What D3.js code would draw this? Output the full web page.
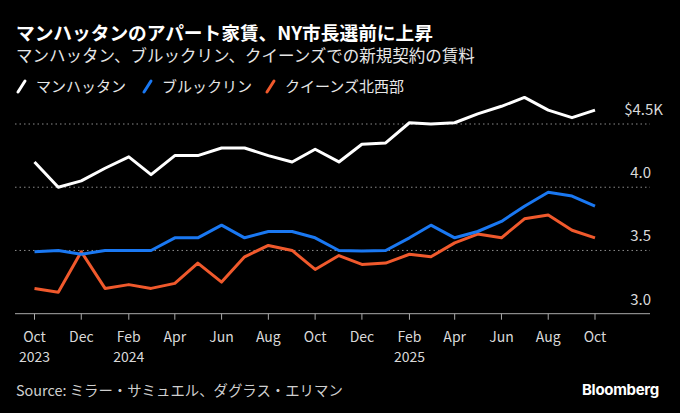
<!DOCTYPE html>
<html>
<head>
<meta charset="utf-8">
<script src="https://cdn.jsdelivr.net/npm/d3@7"></script>
<style>
  html, body { margin: 0; padding: 0; background: #000; }
  svg { display: block; font-family: "Noto Sans CJK JP", "Noto Sans", sans-serif; }
</style>
</head>
<body>
<div id="chart"></div>
<script>
// monthly data, Oct 2023 .. Oct 2025 (thousand USD)
const months = d3.timeMonths(new Date(2023, 9, 1), new Date(2025, 10, 1));
const manhattan = [4.20, 4.00, 4.05, 4.15, 4.24, 4.10, 4.25, 4.25, 4.31, 4.31, 4.25, 4.20, 4.30,
  4.20, 4.34, 4.35, 4.51, 4.50, 4.51, 4.58, 4.64, 4.71, 4.61, 4.55, 4.61];
const brooklyn = [3.49, 3.50, 3.47, 3.50, 3.50, 3.50, 3.60, 3.60, 3.70, 3.60, 3.65, 3.65, 3.60,
  3.50, 3.495, 3.50, 3.60, 3.70, 3.60, 3.65, 3.73, 3.85, 3.96, 3.93, 3.85];
const queensNW = [3.20, 3.17, 3.49, 3.20, 3.23, 3.20, 3.24, 3.40, 3.25, 3.45, 3.54, 3.50, 3.35,
  3.46, 3.39, 3.40, 3.47, 3.45, 3.56, 3.63, 3.60, 3.75, 3.78, 3.66, 3.60];
const yTicks = [3.0, 3.5, 4.0, 4.5];

const series = [
  { name: "マンハッタン", values: manhattan, color: "#ffffff" },
  { name: "ブルックリン", values: brooklyn, color: "#1a78f2" },
  { name: "クイーンズ北西部", values: queensNW, color: "#f0592c" },
];

const width = 680, height = 413;
const plotLeft = 15, plotRight = 650;

const svg = d3.select("#chart").append("svg")
  .attr("width", width)
  .attr("height", height)
  .style("background", "#000");

// titles
svg.append("text").attr("x", 16).attr("y", 40)
  .attr("fill", "#fff").attr("font-size", 18.7).attr("font-weight", 700)
  .text("マンハッタンのアパート家賃、NY市長選前に上昇");
svg.append("text").attr("x", 16).attr("y", 62)
  .attr("fill", "#e6e6e6").attr("font-size", 16.5)
  .text("マンハッタン、ブルックリン、クイーンズでの新規契約の賃料");

// legend
const legendX = [16, 142, 265];
const legendG = svg.append("g");
series.forEach((s, i) => {
  const g = legendG.append("g").attr("transform", `translate(${legendX[i]},0)`);
  g.append("line")
    .attr("x1", 2).attr("y1", 92).attr("x2", 9).attr("y2", 81)
    .attr("stroke", s.color).attr("stroke-width", 3).attr("stroke-linecap", "round");
  g.append("text").attr("x", 20).attr("y", 92)
    .attr("fill", "#e6e6e6").attr("font-size", 15)
    .text(s.name);
});

const x = d3.scaleTime()
  .domain([months[0], months[months.length - 1]])
  .range([34.5, 595]);
const y = d3.scaleLinear().domain([3.0, 4.5]).range([313.7, 124]);

// gridlines
svg.append("g").selectAll("line")
  .data(yTicks.filter((d) => d > 3.0))
  .join("line")
  .attr("x1", plotLeft).attr("x2", plotRight)
  .attr("y1", (d) => y(d)).attr("y2", (d) => y(d))
  .attr("stroke", "#8a8a8a").attr("stroke-width", 1)
  .attr("stroke-dasharray", "1.5,3");

// y labels
svg.append("g").selectAll("text")
  .data(yTicks)
  .join("text")
  .attr("x", (d) => (d === 4.5 ? 663 : 651))
  .attr("y", (d) => y(d) - 9)
  .attr("text-anchor", "end")
  .attr("fill", "#d9d9d9").attr("font-size", 15)
  .text((d) => (d === 4.5 ? "$" + d3.format(".1f")(d) + "K" : d3.format(".1f")(d)));

// x axis
const xAxisG = svg.append("g").attr("transform", `translate(0,${y(3.0)})`);
xAxisG.append("line")
  .attr("x1", plotLeft).attr("x2", plotRight)
  .attr("stroke", "#aaa").attr("stroke-width", 1);
const tickDates = months.filter((d, i) => i % 2 === 0);
const tickG = xAxisG.selectAll("g.tick").data(tickDates).join("g")
  .attr("transform", (d) => `translate(${x(d)},0)`);
tickG.append("line").attr("y2", 6).attr("stroke", "#aaa");
tickG.append("text").attr("y", 28)
  .attr("text-anchor", "middle").attr("fill", "#d9d9d9").attr("font-size", 14)
  .text((d) => d3.timeFormat("%b")(d));
tickG.filter((d) => d.getMonth() === 9 && d.getFullYear() === 2023 || d.getMonth() === 1)
  .append("text").attr("y", 48)
  .attr("text-anchor", "middle").attr("fill", "#d9d9d9").attr("font-size", 14)
  .text((d) => d.getFullYear());

// lines, drawn back to front
const line = d3.line().x((d, i) => x(months[i])).y((d) => y(d));
svg.append("g").selectAll("path")
  .data(series.slice().reverse())
  .join("path")
  .attr("d", (s) => line(s.values))
  .attr("fill", "none")
  .attr("stroke", (s) => s.color)
  .attr("stroke-width", 3)
  .attr("stroke-linejoin", "round");

// footer
svg.append("text").attr("x", 16).attr("y", 396)
  .attr("fill", "#cfcfcf").attr("font-size", 14.4)
  .text("Source: ミラー・サミュエル、ダグラス・エリマン");
svg.append("text").attr("x", 659).attr("y", 395)
  .attr("text-anchor", "end")
  .attr("fill", "#fff").attr("font-size", 15).attr("font-weight", 700)
  .attr("font-family", "Inter, Roboto, sans-serif")
  .attr("letter-spacing", -0.3)
  .text("Bloomberg");
</script>
</body>
</html>
